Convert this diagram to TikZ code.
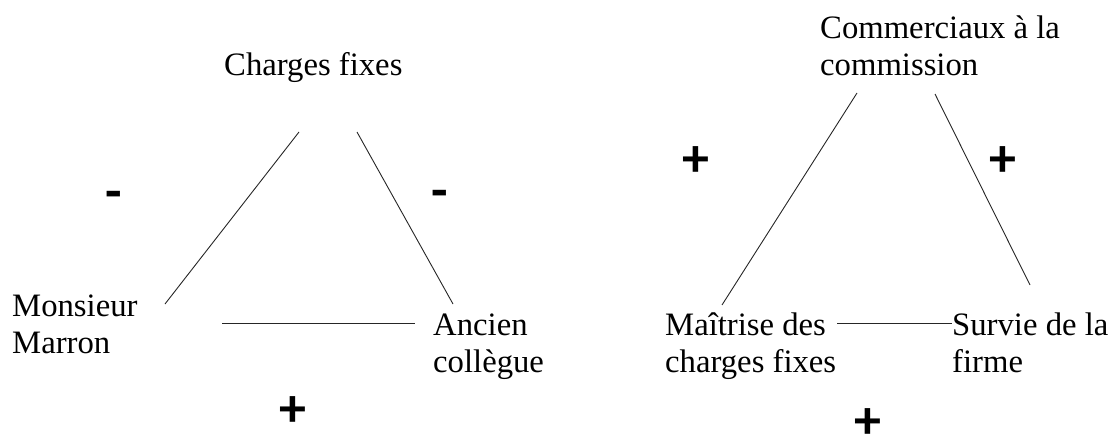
\documentclass[tikz,border=0pt]{standalone}
\usepackage{fontspec}
\setmainfont{Liberation Serif}
\newfontfamily\signfont{Carlito}
\begin{document}
\begin{tikzpicture}[x=1pt,y=-1pt,
  lbl/.style={anchor=base west,inner sep=0pt,font=\fontsize{32.7}{37}\selectfont},
  sgn/.style={anchor=center,inner sep=0pt,font=\signfont\bfseries\fontsize{54}{54}\selectfont},
  link/.style={line width=0.9pt,draw=black!85}]
\useasboundingbox (0,0) rectangle (1120,439);
% left triangle
\node[lbl] (cf) at (224,75) {Charges fixes};
\node[lbl] (mm) at (12,316) {\begin{tabular}[t]{@{}l@{}}Monsieur\\Marron\end{tabular}};
\node[lbl] (ac) at (433,335) {\begin{tabular}[t]{@{}l@{}}Ancien\\coll\`egue\end{tabular}};
\node[sgn] (s1) at (114,200) {-};
\node[sgn] (s2) at (440,199) {-};
\node[sgn] (s3) at (293,412) {+};
\coordinate (l1a) at (299,132);
\coordinate (l1b) at (165,304);
\coordinate (l2a) at (357,132);
\coordinate (l2b) at (453,304);
\coordinate (l3a) at (222,323);
\coordinate (l3b) at (415,323);
\draw[link] (l1a) -- (l1b);
\draw[link] (l2a) -- (l2b);
\draw[link] (l3a) -- (l3b);
% right triangle
\node[lbl] (cc) at (820,38) {\begin{tabular}[t]{@{}l@{}}Commerciaux \`a la\\commission\end{tabular}};
\node[lbl] (mc) at (665,335) {\begin{tabular}[t]{@{}l@{}}Ma\^itrise des\\charges fixes\end{tabular}};
\node[lbl] (sf) at (952,335) {\begin{tabular}[t]{@{}l@{}}Survie de la\\firme\end{tabular}};
\node[sgn] (s4) at (696,162) {+};
\node[sgn] (s5) at (1003,162) {+};
\node[sgn] (s6) at (868,424) {+};
\coordinate (r1a) at (857,93);
\coordinate (r1b) at (722,305);
\coordinate (r2a) at (935,94);
\coordinate (r2b) at (1030,285);
\coordinate (r3a) at (837,323);
\coordinate (r3b) at (952,323);
\draw[link] (r1a) -- (r1b);
\draw[link] (r2a) -- (r2b);
\draw[link] (r3a) -- (r3b);
\end{tikzpicture}
\end{document}
